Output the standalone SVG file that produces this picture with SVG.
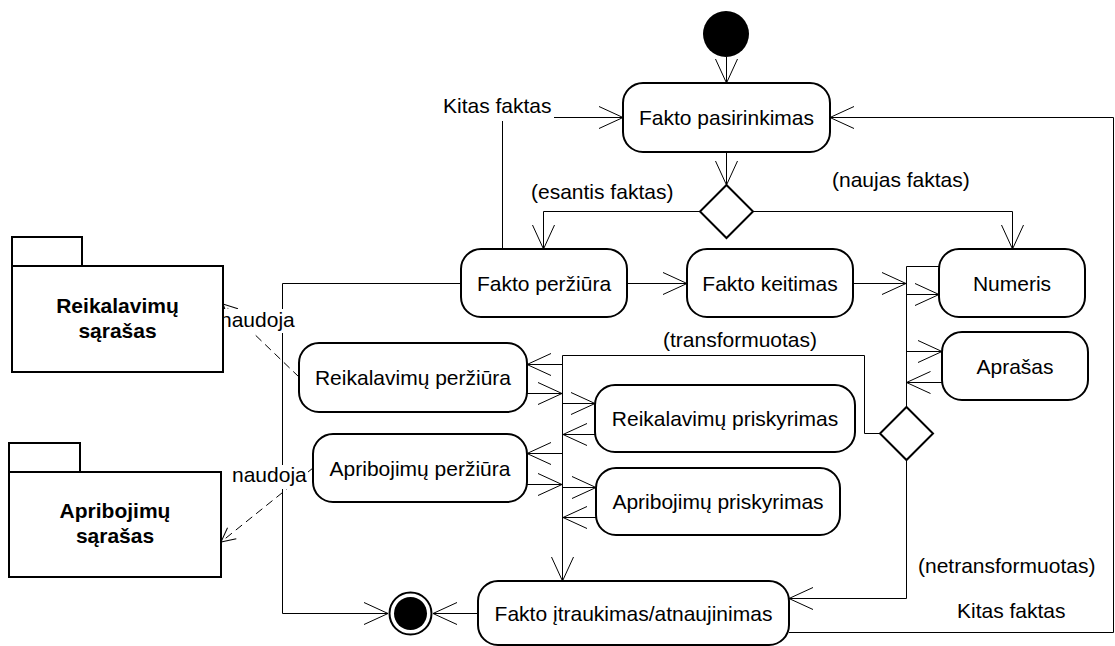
<svg xmlns="http://www.w3.org/2000/svg" width="1115" height="646" viewBox="0 0 1115 646">
<style>
text{font-family:"Liberation Sans",Arial,sans-serif;font-size:21px;fill:#000}
.c{text-anchor:middle}
.b{font-weight:bold}
.box{fill:#fff;stroke:#000;stroke-width:2}
.ln{fill:none;stroke:#000;stroke-width:1}
.dash{fill:none;stroke:#000;stroke-width:1;stroke-dasharray:8 5}
.bg{fill:#fff;stroke:none}
</style>
<defs>
<marker id="arr" markerUnits="userSpaceOnUse" orient="auto" refX="0" refY="0" viewBox="-26 -13 28 26" markerWidth="28" markerHeight="26" overflow="visible">
<path d="M-24,-11 L0,0 L-24,11" fill="none" stroke="#000" stroke-width="1"/>
</marker>
<marker id="sm" markerUnits="userSpaceOnUse" orient="auto" refX="0" refY="0" viewBox="-16 -9 18 18" markerWidth="18" markerHeight="18" overflow="visible">
<path d="M-14,-7 L0,0 L-14,7" fill="none" stroke="#000" stroke-width="1"/>
</marker>
</defs>
<rect width="1115" height="646" fill="#fff"/>

<g id="connectors">
<path class="ln" d="M726.5,57 V83" marker-end="url(#arr)"/>
<path class="ln" d="M726.5,152 V185" marker-end="url(#arr)"/>
<path class="ln" d="M699,211.5 H543.5 V249" marker-end="url(#arr)"/>
<path class="ln" d="M752,211.5 H1012.5 V249" marker-end="url(#arr)"/>
<path class="ln" d="M502.5,249 V117.5 H623" marker-end="url(#arr)"/>
<path class="ln" d="M461,283.5 H282.5 V613.5 H388" marker-end="url(#arr)"/>
<path class="ln" d="M478,613.5 H433" marker-end="url(#arr)"/>
<path class="ln" d="M627,283.5 H687" marker-end="url(#arr)"/>
<path class="ln" d="M853,283.5 H906" marker-end="url(#arr)"/>
<path class="ln" d="M939,266.5 H906.5 V407"/>
<path class="ln" d="M906.5,294.5 H939" marker-end="url(#arr)"/>
<path class="ln" d="M906.5,351.5 H942" marker-end="url(#arr)"/>
<path class="ln" d="M942,382.5 H906.5" marker-end="url(#arr)"/>
<path class="ln" d="M879,433.5 H864.5 V355.5 H562.5 V581" marker-end="url(#arr)"/>
<path class="ln" d="M562.5,364.5 H527" marker-end="url(#arr)"/>
<path class="ln" d="M527,393.5 H562" marker-end="url(#arr)"/>
<path class="ln" d="M562.5,403.5 H595" marker-end="url(#arr)"/>
<path class="ln" d="M595,434.5 H563" marker-end="url(#arr)"/>
<path class="ln" d="M562.5,453.5 H527" marker-end="url(#arr)"/>
<path class="ln" d="M527,484.5 H562" marker-end="url(#arr)"/>
<path class="ln" d="M562.5,487.5 H596" marker-end="url(#arr)"/>
<path class="ln" d="M596,517.5 H563" marker-end="url(#arr)"/>
<path class="ln" d="M906.5,459 V598.5 H789" marker-end="url(#arr)"/>
<path class="ln" d="M789,632.5 H1113.5 V117.5 H830" marker-end="url(#arr)"/>
<path class="dash" d="M299,377 L223,304" marker-end="url(#sm)"/>
<path class="dash" d="M313,468 L221,542" marker-end="url(#sm)"/>
<rect class="bg" x="441" y="97" width="113" height="24"/>
<text x="443" y="113">Kitas faktas</text>
<text x="531" y="199">(esantis faktas)</text>
<text x="832" y="187">(naujas faktas)</text>
<text x="663" y="347">(transformuotas)</text>
<text x="918" y="573">(netransformuotas)</text>
<text x="957" y="618">Kitas faktas</text>
<rect class="bg" x="219" y="309" width="77" height="24"/>
<text x="220" y="327">naudoja</text>
<rect class="bg" x="231" y="465" width="77" height="24"/>
<text x="232" y="482">naudoja</text>
</g>

<g id="start"><circle cx="726" cy="34" r="23" fill="#000"/></g>
<g id="end"><circle cx="410.5" cy="613.5" r="21" fill="#fff" stroke="#000" stroke-width="2"/><circle cx="410.5" cy="613.5" r="16.5" fill="#000"/></g>

<g id="fakto-pasirinkimas"><rect class="box" x="623" y="83" width="207" height="69" rx="20"/><text class="c" x="726.5" y="125">Fakto pasirinkimas</text></g>
<g id="decision1"><path class="box" d="M726.5,185 L753,211.5 L726.5,238 L700,211.5 Z"/></g>
<g id="fakto-perziura"><rect class="box" x="461" y="249" width="166" height="68" rx="20"/><text class="c" x="544" y="291">Fakto peržiūra</text></g>
<g id="fakto-keitimas"><rect class="box" x="687" y="249" width="166" height="68" rx="20"/><text class="c" x="770" y="291">Fakto keitimas</text></g>
<g id="numeris"><rect class="box" x="939" y="249" width="146" height="68" rx="20"/><text class="c" x="1012" y="291">Numeris</text></g>
<g id="aprasas"><rect class="box" x="942" y="332" width="146" height="68" rx="20"/><text class="c" x="1015" y="374">Aprašas</text></g>
<g id="decision2"><path class="box" d="M906.5,407 L933,433.5 L906.5,460 L880,433.5 Z"/></g>
<g id="reik-perziura"><rect class="box" x="299" y="343" width="228" height="69" rx="20"/><text class="c" x="413" y="385">Reikalavimų peržiūra</text></g>
<g id="reik-priskyrimas"><rect class="box" x="595" y="385" width="260" height="67" rx="20"/><text class="c" x="725" y="426">Reikalavimų priskyrimas</text></g>
<g id="apr-perziura"><rect class="box" x="313" y="434" width="214" height="68" rx="20"/><text class="c" x="420" y="476">Apribojimų peržiūra</text></g>
<g id="apr-priskyrimas"><rect class="box" x="596" y="468" width="244" height="67" rx="20"/><text class="c" x="718" y="509">Apribojimų priskyrimas</text></g>
<g id="fakto-itraukimas"><rect class="box" x="478" y="581" width="311" height="64" rx="20"/><text class="c" x="633.5" y="621">Fakto įtraukimas/atnaujinimas</text></g>

<g id="pkg-reikalavimu"><rect class="box" x="12" y="237" width="70" height="29"/><rect class="box" x="12" y="266" width="211" height="106"/><text class="c b" x="117.5" y="313">Reikalavimų</text><text class="c b" x="117.5" y="338">sąrašas</text></g>
<g id="pkg-apribojimu"><rect class="box" x="9" y="443" width="71" height="29"/><rect class="box" x="9" y="472" width="212" height="105"/><text class="c b" x="115" y="518">Apribojimų</text><text class="c b" x="115" y="543">sąrašas</text></g>
</svg>
